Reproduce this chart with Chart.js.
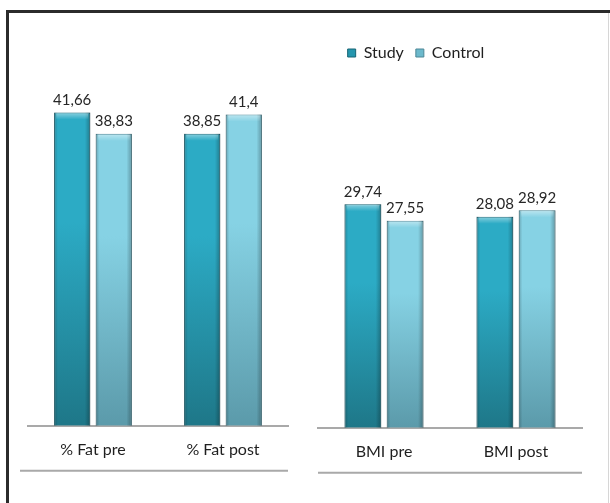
<!DOCTYPE html>
<html>
<head>
<meta charset="utf-8">
<script src="https://cdn.jsdelivr.net/npm/chart.js@4.4.0/dist/chart.umd.min.js"></script>
<style>
  html, body { margin: 0; padding: 0; background: #fff; width: 610px; height: 503px; overflow: hidden; }
  #frame { position: absolute; left: 6px; top: 10px; width: 620px; height: 520px; border: 3px solid #2b2b2b; box-sizing: border-box; }
  #edge { position: absolute; left: 608px; top: 13px; width: 1px; height: 490px; background: #d6d6d6; }
  .box { position: absolute; }
  #fatBox { left: 15px; top: 20px; width: 285px; height: 470px; }
  #bmiBox { left: 240px; top: 20px; width: 360px; height: 470px; }
</style>
</head>
<body>
<div id="frame"></div>
<div id="edge"></div>
<div class="box" id="fatBox"><canvas id="fatChart"></canvas></div>
<div class="box" id="bmiBox"><canvas id="bmiChart"></canvas></div>
<script>
// Body composition: study vs control group, before and after
const seriesNames = ['Study', 'Control'];
const fatCategories = ['% Fat pre', '% Fat post'];
const fatStudy = [41.66, 38.85];
const fatControl = [38.83, 41.4];
const bmiCategories = ['BMI pre', 'BMI post'];
const bmiStudy = [29.74, 28.08];
const bmiControl = [27.55, 28.92];

const FONT = 'Lato, "Open Sans", sans-serif';
const AXIS_MAX = 44;

const palette = {
  Study:   { light: '#2cabc5', dark: '#1e7788', edge: '#176474' },
  Control: { light: '#86d2e4', dark: '#5b9aaa', edge: '#4d8796' }
};

// Vertical gradient running from each bar's top down to the baseline
function barFill(p) {
  return (ctx) => {
    const chart = ctx.chart;
    const y = chart.scales && chart.scales.y;
    if (!chart.chartArea || !y || !ctx.parsed) return p.light;
    const top = y.getPixelForValue(ctx.parsed.y);
    const g = chart.ctx.createLinearGradient(0, top, 0, chart.chartArea.bottom);
    g.addColorStop(0, p.light);
    g.addColorStop(0.35, p.light);
    g.addColorStop(1, p.dark);
    return g;
  };
}

function fmt(v) { return String(v).replace('.', ','); }

// Bevel shading on every bar plus value labels above them
const barDecor = {
  id: 'barDecor',
  afterDatasetsDraw(chart) {
    const c = chart.ctx;
    chart.data.datasets.forEach((ds, di) => {
      const meta = chart.getDatasetMeta(di);
      meta.data.forEach((bar, i) => {
        const left = bar.x - bar.width / 2;
        const right = bar.x + bar.width / 2;
        const top = bar.y;
        const bottom = bar.base;
        c.save();
        // side shading
        const hg = c.createLinearGradient(left, 0, right, 0);
        hg.addColorStop(0, 'rgba(0,0,0,0.22)');
        hg.addColorStop(0.1, 'rgba(0,0,0,0)');
        hg.addColorStop(0.85, 'rgba(0,0,0,0)');
        hg.addColorStop(1, 'rgba(0,0,0,0.28)');
        c.fillStyle = hg;
        c.fillRect(left, top, right - left, bottom - top);
        // top bevel highlight
        const tg = c.createLinearGradient(0, top, 0, top + 7);
        tg.addColorStop(0, 'rgba(255,255,255,0.45)');
        tg.addColorStop(1, 'rgba(255,255,255,0)');
        c.fillStyle = tg;
        c.fillRect(left + 2, top + 1, right - left - 4, 7);
        c.restore();

        c.save();
        c.font = '15px ' + FONT;
        c.fillStyle = '#262626';
        c.textAlign = 'center';
        c.textBaseline = 'bottom';
        c.fillText(fmt(ds.data[i]), bar.x, top - 5);
        c.restore();
      });
    });
  }
};

// Rule drawn underneath the category labels
const underRule = {
  id: 'underRule',
  afterDraw(chart, args, opts) {
    const a = chart.chartArea;
    const c = chart.ctx;
    c.save();
    c.strokeStyle = '#a9a9a9';
    c.lineWidth = 2;
    c.beginPath();
    c.moveTo(a.left - (opts.extendLeft || 0), a.bottom + 45);
    c.lineTo(a.right, a.bottom + 45);
    c.stroke();
    c.restore();
  }
};

// Extra room between legend and plot area
const legendGap = {
  id: 'legendGap',
  beforeInit(chart, args, opts) {
    const fit = chart.legend.fit;
    chart.legend.fit = function () {
      fit.bind(chart.legend)();
      this.height += opts.gap || 0;
    };
  }
};

function makeDatasets(studyVals, controlVals) {
  return [
    { label: seriesNames[0], data: studyVals, backgroundColor: barFill(palette.Study),
      borderColor: palette.Study.edge, borderWidth: 1, borderSkipped: 'bottom' },
    { label: seriesNames[1], data: controlVals, backgroundColor: barFill(palette.Control),
      borderColor: palette.Control.edge, borderWidth: 1, borderSkipped: 'bottom' }
  ];
}

function xAxis() {
  return {
    grid: { display: false, drawTicks: false },
    border: { display: true, color: '#a9a9a9', width: 2 },
    ticks: { font: { family: FONT, size: 16 }, color: '#1f1f1f', padding: 14 }
  };
}

new Chart(document.getElementById('fatChart'), {
  type: 'bar',
  data: { labels: fatCategories, datasets: makeDatasets(fatStudy, fatControl) },
  options: {
    responsive: true, maintainAspectRatio: false, animation: false,
    categoryPercentage: 0.64, barPercentage: 0.87,
    layout: { padding: { left: 13, right: 12, top: 75, bottom: 17 } },
    scales: {
      x: xAxis(),
      y: { display: false, min: 0, max: AXIS_MAX }
    },
    plugins: { legend: { display: false }, tooltip: { enabled: false }, underRule: { extendLeft: 8 } }
  },
  plugins: [barDecor, underRule]
});

new Chart(document.getElementById('bmiChart'), {
  type: 'bar',
  data: { labels: bmiCategories, datasets: makeDatasets(bmiStudy, bmiControl) },
  options: {
    responsive: true, maintainAspectRatio: false, animation: false,
    categoryPercentage: 0.64, barPercentage: 0.87,
    layout: { padding: { left: 10, right: 18, top: 13, bottom: 15 } },
    scales: {
      x: xAxis(),
      y: {
        display: true, min: 0, max: AXIS_MAX,
        ticks: { display: false }, grid: { display: false, drawTicks: false },
        border: { display: false },
        afterFit(s) { s.width = 68; }
      }
    },
    plugins: {
      tooltip: { enabled: false },
      underRule: { extendLeft: 0 },
      legendGap: { gap: 26 },
      legend: {
        position: 'top', align: 'center',
        labels: {
          boxWidth: 8, boxHeight: 8, padding: 12,
          font: { family: FONT, size: 16 }, color: '#1f1f1f',
          generateLabels(chart) {
            return chart.data.datasets.map((ds, i) => ({
              text: ds.label,
              fillStyle: i === 0 ? '#2596ae' : '#6cb9cc',
              strokeStyle: i === 0 ? palette.Study.edge : palette.Control.edge,
              lineWidth: 1, hidden: false, datasetIndex: i, fontColor: '#1f1f1f'
            }));
          }
        }
      }
    }
  },
  plugins: [barDecor, underRule, legendGap]
});
</script>
</body>
</html>
